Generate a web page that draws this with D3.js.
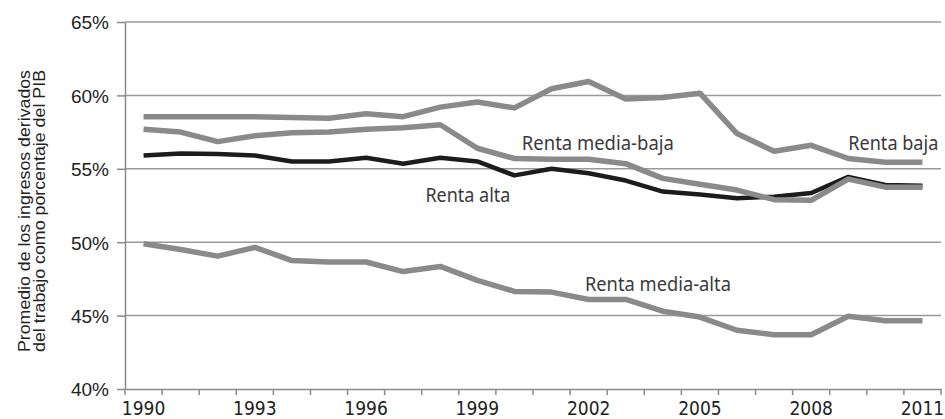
<!DOCTYPE html>
<html>

<head>
    <script src="https://d3js.org/d3.v7.min.js"></script>
    <style>
        body { margin: 0; background: #fff; }
        .grid line { stroke: #9a9a9a; stroke-width: 1.5px; }
        .axis path, .axis line { stroke: #8a8a8a; stroke-width: 1.5px; }
        .yaxis text { font: 19px "Liberation Sans", Arial, sans-serif; fill: #222; }
        .xaxis text { font: 19px "Liberation Sans Narrow", "DejaVu Sans Condensed", sans-serif; fill: #222; }
        .serie { fill: none; stroke-linejoin: round; stroke-linecap: butt; }
        .lbl { font: 19px "Noto Sans", "Open Sans", sans-serif; fill: #3a3a3a; }
        .ytitle { font: 17px "Liberation Sans", Arial, sans-serif; fill: #222; }
    </style>
</head>

<body>
    <script>
        var years = d3.range(1990, 2012);
        var tickYears = [1990, 1993, 1996, 1999, 2002, 2005, 2008, 2011];
        var yTicks = [40, 45, 50, 55, 60, 65];

        var rentaBaja = [58.55, 58.55, 58.55, 58.55, 58.5, 58.45, 58.75, 58.55, 59.2, 59.55, 59.15,
            60.45, 60.95, 59.75, 59.85, 60.15, 57.4, 56.2, 56.6, 55.7, 55.45, 55.45];
        var rentaMediaBaja = [57.7, 57.5, 56.85, 57.25, 57.45, 57.5, 57.7, 57.8, 58.0, 56.4, 55.7,
            55.65, 55.65, 55.35, 54.35, 53.95, 53.55, 52.9, 52.85, 54.3, 53.75, 53.75];
        var rentaAlta = [55.9, 56.05, 56.0, 55.9, 55.5, 55.5, 55.75, 55.35, 55.75, 55.5, 54.55,
            55.0, 54.7, 54.2, 53.45, 53.25, 53.0, 53.1, 53.35, 54.45, 53.9, 53.85];
        var rentaMediaAlta = [49.9, 49.5, 49.05, 49.65, 48.75, 48.65, 48.65, 48.0, 48.35, 47.4, 46.65,
            46.6, 46.1, 46.1, 45.3, 44.9, 44.0, 43.7, 43.7, 44.95, 44.65, 44.65];

        var series = [
            { name: "Renta alta", values: rentaAlta, color: "#1c1c1c", width: 4.5 },
            { name: "Renta media-alta", values: rentaMediaAlta, color: "#8a8a8a", width: 5.5 },
            { name: "Renta media-baja", values: rentaMediaBaja, color: "#8a8a8a", width: 5.5 },
            { name: "Renta baja", values: rentaBaja, color: "#8a8a8a", width: 5.5 }
        ];

        // label anchors: [year, value] used to place the series names
        var labels = [
            { text: "Renta media-baja", year: 2000.2, value: 56.3, len: 152 },
            { text: "Renta baja", year: 2009.0, value: 56.3, len: 90 },
            { text: "Renta alta", year: 1997.6, value: 52.75, len: 85 },
            { text: "Renta media-alta", year: 2001.9, value: 46.7, len: 146 }
        ];

        var svg = d3.select("body").append("svg")
            .attr("width", 945)
            .attr("height", 419);

        var x = d3.scaleBand().domain(years).range([125, 941]);
        var y = d3.scaleLinear().domain([40, 65]).range([389, 22]);
        var cx = function (yr) { return x(yr) + x.bandwidth() / 2; };
        var step = x.step();
        var yearX = function (yr) { return x(1990) + step / 2 + (yr - 1990) * step; };

        // gridlines
        svg.append("g").attr("class", "grid")
            .selectAll("line")
            .data(yTicks.filter(function (d) { return d > 40; }))
            .enter().append("line")
            .attr("x1", 125).attr("x2", 941)
            .attr("y1", function (d) { return y(d); })
            .attr("y2", function (d) { return y(d); });

        // y axis
        var yAxis = svg.append("g").attr("class", "axis yaxis")
            .attr("transform", "translate(125,0)")
            .call(d3.axisLeft(y).tickValues(yTicks).tickSize(8).tickSizeOuter(0)
                .tickFormat(function (d) { return d + "%"; }));
        yAxis.selectAll("text").attr("x", -16).attr("dy", "0.36em");

        // x axis: labels every 3 years, ticks between categories
        var xAxis = svg.append("g").attr("class", "axis xaxis")
            .attr("transform", "translate(0,389)")
            .call(d3.axisBottom(x).tickValues(tickYears).tickSize(0).tickSizeOuter(0));
        xAxis.selectAll("text").attr("y", 13).attr("dy", "0.71em");
        xAxis.selectAll(".between")
            .data(years.concat([null]))
            .enter().append("line")
            .attr("class", "between")
            .attr("x1", function (d) { return d === null ? 941 : x(d); })
            .attr("x2", function (d) { return d === null ? 941 : x(d); })
            .attr("y1", 0).attr("y2", 6);

        var line = d3.line()
            .x(function (d, i) { return cx(years[i]); })
            .y(function (d) { return y(d); });

        svg.append("g").selectAll("path")
            .data(series)
            .enter().append("path")
            .attr("class", "serie")
            .attr("d", function (d) { return line(d.values); })
            .attr("stroke", function (d) { return d.color; })
            .attr("stroke-width", function (d) { return d.width; });

        svg.append("g").selectAll("text")
            .data(labels)
            .enter().append("text")
            .attr("class", "lbl")
            .attr("x", function (d) { return yearX(d.year); })
            .attr("y", function (d) { return y(d.value); })
            .attr("textLength", function (d) { return d.len; })
            .attr("lengthAdjust", "spacingAndGlyphs")
            .text(function (d) { return d.text; });

        var title = svg.append("text")
            .attr("class", "ytitle")
            .attr("transform", "translate(30,211) rotate(-90)")
            .attr("text-anchor", "middle");
        title.append("tspan").attr("x", 0).attr("y", 0).attr("textLength", 282)
            .attr("lengthAdjust", "spacingAndGlyphs").text("Promedio de los ingresos derivados");
        title.append("tspan").attr("x", 0).attr("y", 15).attr("textLength", 282)
            .attr("lengthAdjust", "spacingAndGlyphs").text("del trabajo como porcentaje del PIB");
    </script>
</body>

</html>
